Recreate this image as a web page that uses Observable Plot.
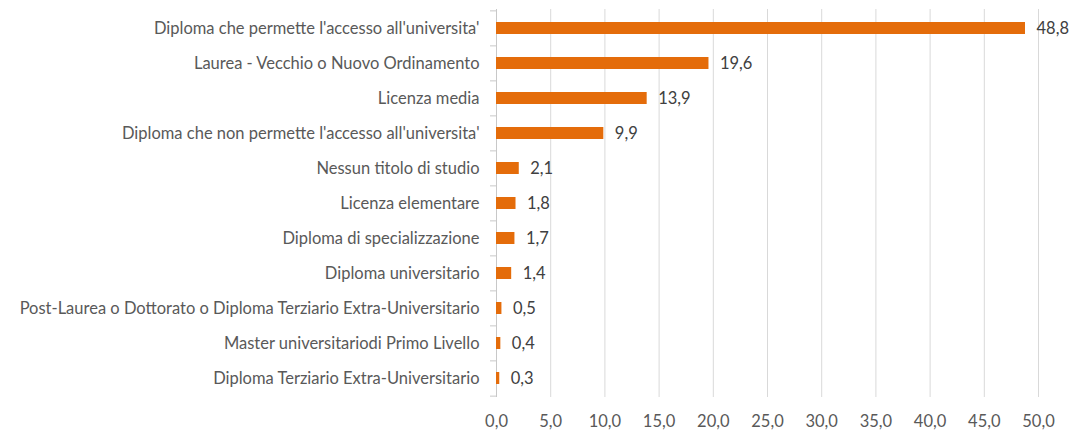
<!DOCTYPE html>
<html><head><meta charset="utf-8">
<script src="https://cdn.jsdelivr.net/npm/d3@7"></script>
<script src="https://cdn.jsdelivr.net/npm/@observablehq/plot@0.6"></script>
<style>
body{margin:0;background:#fff;}
svg{font-family:Lato,"Open Sans",sans-serif;}
</style></head><body><div id="chart"></div>
<script>
const categories = [
  "Diploma che permette l'accesso all'universita'",
  "Laurea - Vecchio o Nuovo Ordinamento",
  "Licenza media",
  "Diploma che non permette l'accesso all'universita'",
  "Nessun titolo di studio",
  "Licenza elementare",
  "Diploma di specializzazione",
  "Diploma universitario",
  "Post-Laurea o Dottorato o Diploma Terziario Extra-Universitario",
  "Master universitariodi Primo Livello",
  "Diploma Terziario Extra-Universitario"
];
const values = [48.8, 19.6, 13.9, 9.9, 2.1, 1.8, 1.7, 1.4, 0.5, 0.4, 0.3];
const xTicks = [0, 5, 10, 15, 20, 25, 30, 35, 40, 45, 50];

const data = categories.map((c, i) => ({cat: c, val: values[i]}));
const fmt = v => v.toFixed(1).replace(".", ",");

const H = 430, MT = 9, MB = 33;
const step = (H - MT - MB) / categories.length;
const FS = "16.5px";

const chart = Plot.plot({
  width: 1077, height: H,
  marginLeft: 496, marginRight: 39, marginTop: MT, marginBottom: MB,
  style: {fontSize: FS, color: "#595959", fontFamily: "Lato, sans-serif"},
  x: {domain: [0, 50]},
  y: {domain: categories, paddingInner: 0.66, paddingOuter: 0.33},
  marks: [
    Plot.ruleX(xTicks.filter(d => d > 0), {stroke: "#d9d9d9", strokeWidth: 1}),
    Plot.ruleX([0], {stroke: "#c8c8c8", strokeWidth: 1}),
    Plot.axisY({tickSize: 6, dy: -step / 2, text: null, label: null, stroke: "#c8c8c8", anchor: "left"}),
    Plot.axisY([categories[categories.length - 1]], {tickSize: 6, dy: step / 2, text: null, label: null, stroke: "#c8c8c8", anchor: "left"}),
    Plot.axisY({tickSize: 0, tickPadding: 17, anchor: "left", label: null, fill: "#595959", fontSize: FS}),
    Plot.axisX({ticks: xTicks, tickSize: 0, tickPadding: 18, label: null, tickFormat: fmt, fill: "#595959", fontSize: FS}),
    Plot.barX(data, {y: "cat", x: "val", fill: "#E46C0A"}),
    Plot.text(data, {y: "cat", x: "val", text: d => fmt(d.val), dx: 11, textAnchor: "start", fill: "#404040", fontSize: FS})
  ]
});
document.getElementById("chart").appendChild(chart);
</script></body></html>
